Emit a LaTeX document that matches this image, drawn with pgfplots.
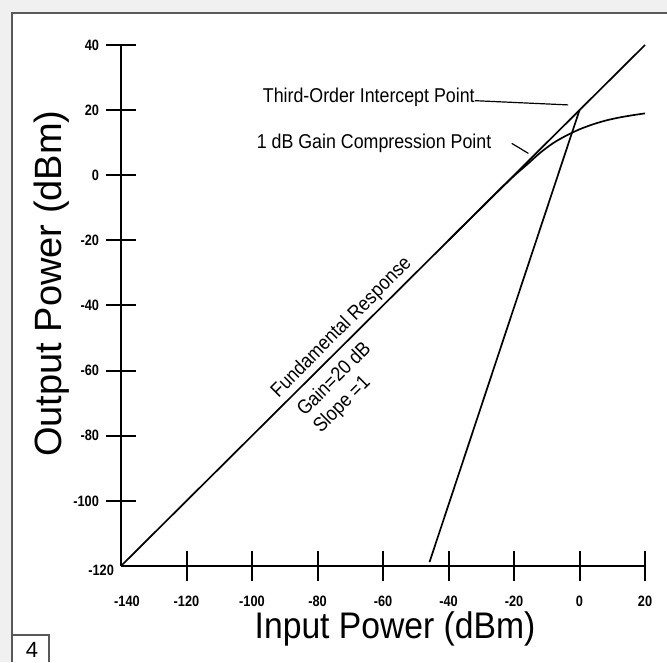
\documentclass[border=0pt]{standalone}
\usepackage{pgfplots}
\pgfplotsset{compat=1.18}
\usepackage{fontspec}
\setmainfont{Liberation Sans}
\usepackage{graphicx}
\newcommand\tl[1]{\scalebox{0.85}[1]{#1}}
\newcommand\annot[1]{\scalebox{0.89}[1]{#1}}
\begin{document}
\begin{tikzpicture}
\useasboundingbox (-60.5pt,-48pt) rectangle (273pt,283pt);
\fill[black!6] (-60.5pt,-48pt) rectangle (273pt,283pt);
\fill[white] (-54.5pt,-48pt) rectangle (273pt,276.5pt);
\draw[black!65, line width=0.8pt] (-54.5pt,-48pt) -- (-54.5pt,276.5pt) -- (273pt,276.5pt);
\draw[black!65, line width=0.6pt] (-54.5pt,-34.5pt) -- (-36pt,-34.5pt) -- (-36pt,-48pt);
\node[font=\fontsize{11}{13}\selectfont] at (-44.5pt,-42pt) {4};
\begin{axis}[
  at={(0,0)}, anchor=south west,
  scale only axis, width=262pt, height=260.5pt,
  xmin=-140, xmax=20, ymin=-120, ymax=40,
  axis lines=left, axis line style={-, line width=1pt},
  xtick={-120,-100,...,20}, ytick={-100,-80,...,40},
  xticklabels={\tl{-120},\tl{-100},\tl{-80},\tl{-60},\tl{-40},\tl{-20},\tl{0},\tl{20}},
  yticklabels={\tl{-100},\tl{-80},\tl{-60},\tl{-40},\tl{-20},\tl{0},\tl{20},\tl{40}},
  xticklabel style={yshift=-4pt},
  extra x ticks={-140}, extra x tick labels={\tl{-140}},
  extra x tick style={major tick length=0pt, xticklabel style={yshift=-7.5pt, xshift=3pt}},
  extra y ticks={-120}, extra y tick labels={\tl{-120}},
  extra y tick style={major tick length=0pt, yticklabel style={yshift=-2pt}},
  tick align=center, major tick length=15pt,
  tick style={line width=1pt, black},
  ticklabel style={font=\fontsize{7.5}{8}\selectfont\bfseries},
  xlabel={\scalebox{0.91}[1]{Input Power (dBm)}},
  xlabel style={font=\fontsize{18.5}{22}\selectfont, at={(axis description cs:0.523,-0.1388)}, anchor=base},
  ylabel={Output Power (dBm)},
  ylabel style={font=\fontsize{19}{22}\selectfont, at={(axis description cs:-0.113,0.542)}, anchor=base},
  clip=false,
]
\addplot[black, line width=0.85pt] coordinates {(-140,-120) (20,40)};
\addplot[black, line width=0.85pt, smooth] coordinates {(-40,-20) (-30,-10) (-25,-5.05) (-20,-0.2) (-16,3.3) (-12,6.9) (-8,9.9) (-4,12.2) (0,14.1) (4,15.6) (8,16.8) (12,17.7) (16,18.4) (20,19.0)};
\addplot[black, line width=0.85pt] coordinates {(-45.8,-118.8) (0,20)};
\addplot[black, line width=0.6pt] coordinates {(-31.9,22.9) (-3.5,21.6)};
\addplot[black, line width=0.6pt] coordinates {(-20.7,9.8) (-15.6,6.7)};
\node[anchor=east, inner sep=0pt, font=\fontsize{10}{12}\selectfont] at (axis cs:-31.9,23.8) {\annot{Third-Order Intercept Point}};
\node[anchor=east, inner sep=0pt, font=\fontsize{10}{12}\selectfont] at (axis cs:-26.8,9.75) {\annot{1 dB Gain Compression Point}};
\node[rotate=45, inner sep=0pt, font=\fontsize{10}{12}\selectfont] at (axis cs:-72.6,-46.8) {\annot{Fundamental Response}};
\node[rotate=45, inner sep=0pt, font=\fontsize{10}{12}\selectfont] at (axis cs:-75.2,-62.4) {\annot{Gain=20 dB}};
\node[rotate=45, inner sep=0pt, font=\fontsize{10}{12}\selectfont] at (axis cs:-72.4,-70.6) {\annot{Slope =1}};
\end{axis}
\end{tikzpicture}
\end{document}
